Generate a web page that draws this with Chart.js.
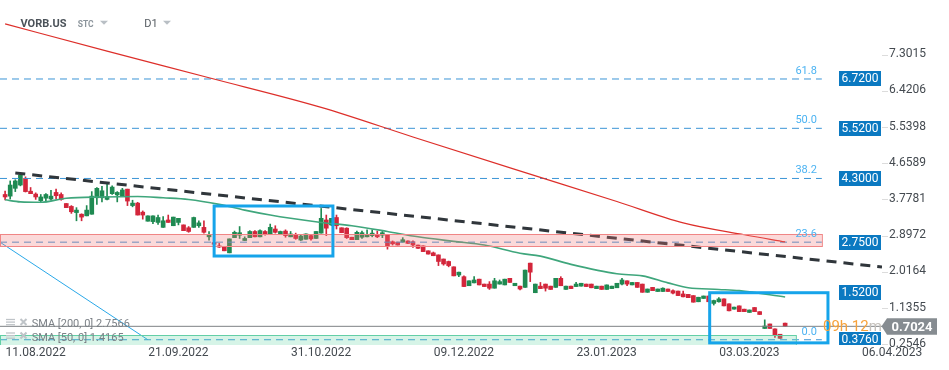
<!DOCTYPE html>
<html><head><meta charset="utf-8">
<script src="https://cdn.jsdelivr.net/npm/chart.js@4.4.0/dist/chart.umd.min.js"></script>
<style>html,body{margin:0;padding:0;background:#fff}#wrap{width:949px;height:370px;position:relative}</style>
</head><body><div id="wrap"><canvas id="c" width="949" height="370"></canvas></div>
<script>
const opens =[3.91,3.87,4.06,4.14,4.30,3.99,3.92,3.76,3.82,3.80,3.96,3.91,3.69,3.62,3.47,3.43,3.39,3.43,3.83,3.83,3.79,3.93,3.90,3.88,4.04,3.64,3.70,3.48,3.26,3.25,3.23,3.11,3.29,3.15,3.23,3.17,3.10,3.11,3.15,3.11,2.88,2.74,2.66,2.64,2.49,2.86,2.92,2.79,2.86,3.01,2.88,3.01,2.95,3.07,2.94,3.02,2.88,2.94,2.80,2.82,2.91,2.84,2.97,3.29,3.17,3.35,3.10,3.09,2.87,2.81,2.87,2.88,2.91,2.94,2.92,2.92,2.76,2.75,2.75,2.78,2.76,2.68,2.66,2.54,2.49,2.44,2.34,2.28,2.15,1.95,1.91,1.69,1.76,1.85,1.73,1.73,1.63,1.73,1.71,1.87,1.69,1.68,1.65,2.24,1.52,1.68,1.73,1.68,1.65,1.87,1.60,1.68,1.67,1.68,1.73,1.73,1.62,1.68,1.60,1.62,1.64,1.73,1.81,1.71,1.77,1.73,1.53,1.65,1.55,1.55,1.61,1.57,1.56,1.49,1.48,1.45,1.30,1.38,1.44,1.26,1.30,1.37,1.25,1.12,1.20,1.12,1.04,1.16,1.06,0.65,0.76,0.64,0.51,0.78];
const highs =[3.99,4.24,4.27,4.42,4.34,4.08,3.95,3.91,3.93,4.01,4.04,3.95,3.69,3.64,3.59,3.44,3.64,3.98,4.08,4.11,4.16,4.12,3.98,4.06,4.04,3.77,3.72,3.51,3.39,3.39,3.41,3.37,3.41,3.36,3.33,3.17,3.13,3.36,3.27,3.27,3.01,2.84,2.72,2.64,2.83,3.02,3.13,2.88,3.03,3.03,3.05,3.03,3.19,3.15,3.02,3.05,3.01,2.97,2.92,2.95,2.92,3.01,3.57,3.41,3.33,3.41,3.10,3.10,2.87,3.02,3.02,3.05,3.05,3.02,3.01,2.92,2.78,2.75,2.86,2.78,2.78,2.68,2.66,2.54,2.51,2.44,2.34,2.29,2.15,2.02,1.93,1.81,1.91,1.85,1.73,1.79,1.87,1.83,1.85,1.87,1.75,1.68,2.07,2.24,1.73,1.77,1.73,1.68,1.87,1.91,1.68,1.68,1.77,1.75,1.73,1.73,1.68,1.68,1.71,1.68,1.75,1.87,1.81,1.77,1.77,1.73,1.61,1.65,1.61,1.64,1.61,1.59,1.56,1.56,1.48,1.45,1.41,1.44,1.44,1.34,1.40,1.37,1.25,1.17,1.20,1.12,1.10,1.16,1.06,0.86,0.76,0.64,0.51,0.78];
const lows  =[3.78,3.80,3.98,4.12,3.97,3.93,3.79,3.71,3.73,3.77,3.80,3.77,3.59,3.45,3.27,3.27,3.39,3.43,3.67,3.73,3.78,3.91,3.73,3.88,3.64,3.61,3.41,3.31,3.26,3.20,3.18,3.11,3.23,3.15,3.17,3.03,2.99,3.11,3.11,2.97,2.80,2.68,2.62,2.54,2.49,2.86,2.84,2.79,2.86,2.88,2.88,2.92,2.95,2.97,2.94,2.87,2.88,2.82,2.79,2.82,2.80,2.84,2.97,2.91,3.15,3.07,2.98,2.84,2.81,2.81,2.84,2.88,2.88,2.86,2.86,2.58,2.68,2.68,2.75,2.72,2.62,2.60,2.52,2.46,2.42,2.18,2.19,2.15,1.93,1.91,1.67,1.69,1.76,1.71,1.67,1.60,1.63,1.73,1.71,1.77,1.69,1.59,1.65,1.79,1.52,1.62,1.56,1.60,1.65,1.69,1.60,1.62,1.67,1.68,1.67,1.64,1.62,1.60,1.60,1.62,1.64,1.71,1.69,1.71,1.65,1.53,1.53,1.57,1.55,1.55,1.55,1.49,1.45,1.42,1.40,1.29,1.30,1.38,1.30,1.22,1.29,1.20,1.08,1.12,1.06,1.06,1.04,1.06,0.99,0.65,0.65,0.43,0.41,0.70];
const closes=[3.85,4.14,4.24,4.38,3.98,3.93,3.85,3.85,3.91,3.87,3.88,3.79,3.59,3.49,3.53,3.36,3.53,3.87,4.06,4.00,3.86,4.09,3.96,4.02,3.75,3.70,3.41,3.41,3.39,3.39,3.35,3.27,3.23,3.36,3.33,3.03,3.01,3.35,3.22,2.99,2.92,2.70,2.63,2.54,2.83,2.99,2.98,2.84,3.01,2.88,3.03,2.95,3.11,2.99,3.01,2.91,2.95,2.84,2.90,2.95,2.83,3.01,3.33,3.09,3.33,3.15,2.98,2.86,2.81,2.99,2.98,2.94,2.97,2.88,2.98,2.66,2.71,2.68,2.81,2.72,2.68,2.60,2.52,2.46,2.42,2.28,2.22,2.18,1.93,2.02,1.67,1.81,1.83,1.71,1.67,1.63,1.81,1.79,1.85,1.77,1.75,1.61,2.07,2.02,1.73,1.62,1.63,1.60,1.87,1.69,1.68,1.62,1.73,1.75,1.67,1.64,1.68,1.60,1.71,1.68,1.75,1.83,1.73,1.77,1.65,1.53,1.61,1.57,1.61,1.63,1.55,1.51,1.45,1.42,1.40,1.29,1.41,1.44,1.30,1.33,1.37,1.20,1.08,1.17,1.06,1.06,1.10,1.06,0.99,0.71,0.65,0.49,0.41,0.7024];

const dateLabels  =['11.08.2022','21.09.2022','31.10.2022','09.12.2022','23.01.2023','03.03.2023','06.04.2023'];
const dateTickIdx =[6,34,62,90,118,146,174];
const yTicks      =[7.3015,6.4206,5.5398,4.6589,3.7781,2.8972,2.0164,1.1355,0.2546];

const sma200Idx=[0,20,40,62,80,100,120,133,145,153];
const sma200Val=[8.06,7.40,6.75,6.03,5.31,4.52,3.74,3.22,2.93,2.7566];
const sma50Idx=[0,3,7,12,19,26,31,36,42,47,52,56,62,68,75,81,88,94,101,105,111,120,125,130,134,140,144,153];
const sma50Val=[3.78,3.73,3.72,3.82,3.85,3.86,3.83,3.79,3.67,3.53,3.41,3.33,3.23,3.15,3.01,2.88,2.77,2.68,2.48,2.41,2.21,1.98,1.93,1.76,1.64,1.60,1.57,1.4165];

const fibLevels=[6.72,5.52,4.30,2.75,0.376];
const fibNames =['61.8','50.0','38.2','23.6','0.0'];
const fibEndIdx=160.2;
const priceBoxes=[6.72,5.52,4.30,2.75,1.52,0.376];
const lastPrice=0.7024;
const trendIdx=[2,172],  trendVal=[4.433,2.146];
const diagIdx=[-1,28],   diagVal=[2.75,0.376];
const redZone  ={x0:-1,x1:160.2,y0:2.657,y1:2.949};
const greenZone={x0:-1,x1:155.1,y0:0.20,y1:0.491};
const boxes=[{x0:41,x1:64.3,y0:2.413,y1:3.63},{x0:138.2,x1:161.4,y0:0.30,y1:1.52}];
const sma200Label='SMA [200, 0] 2.7566';
const sma50Label='SMA [50, 0] 1.4165';

Chart.defaults.font.family='Roboto, "Noto Sans", sans-serif';
const UP='#1f8a52', DN='#d3263b';
const candleColors=closes.map((c,i)=>c>=opens[i]?UP:DN);
const xy=(xs,ys)=>xs.map((x,i)=>({x:x,y:ys[i]}));
const lineDs=(data,color,width,order,dash,extra)=>Object.assign({type:'line',data:data,borderColor:color,borderWidth:width,pointRadius:0,fill:false,tension:0,order:order,borderDash:dash||[]},extra||{});

const datasets=[
  {type:'bar',data:lows.map((l,i)=>({x:i,y:[l,highs[i]]})),backgroundColor:candleColors,barThickness:1,grouped:false,borderWidth:0,order:11},
  {type:'bar',data:opens.map((o,i)=>({x:i,y:[o,closes[i]]})),backgroundColor:candleColors,barThickness:4,grouped:false,borderWidth:0,order:10}
];
fibLevels.forEach(v=>datasets.push(lineDs(xy([-1,fibEndIdx],[v,v]),'#3b95d6',1,6,[7,5])));
datasets.push(lineDs(xy([-1,172],[lastPrice,lastPrice]),'#7d8185',1,5));
datasets.push(lineDs(xy(diagIdx,diagVal),'#2aa8e8',1,4));
datasets.push(lineDs(xy(sma200Idx,sma200Val),'#dd2f2a',1.2,3,null,{cubicInterpolationMode:'monotone'}));
datasets.push(lineDs(xy(sma50Idx,sma50Val),'#3fa67c',1.6,3,null,{cubicInterpolationMode:'monotone'}));
datasets.push(lineDs(xy(trendIdx,trendVal),'#30363b',3,2,[10,7]));

const overlay={
  id:'overlay',
  afterDatasetsDraw(chart){
    const ctx=chart.ctx, xs=chart.scales.x, ys=chart.scales.y, a=chart.chartArea;
    ctx.save();
    ctx.beginPath();ctx.rect(a.left,a.top,a.right-a.left,a.bottom-a.top);ctx.clip();
    const zone=(z,fill,stroke)=>{
      const x0=xs.getPixelForValue(z.x0),x1=xs.getPixelForValue(z.x1),y0=ys.getPixelForValue(z.y1),y1=ys.getPixelForValue(z.y0);
      ctx.fillStyle=fill;ctx.fillRect(x0,y0,x1-x0,y1-y0);
      ctx.strokeStyle=stroke;ctx.lineWidth=1;ctx.strokeRect(x0+0.5,Math.round(y0)+0.5,x1-x0,Math.round(y1-y0));
    };
    zone(redZone,'rgba(242,120,120,0.28)','#f08585');
    zone(greenZone,'rgba(90,210,160,0.25)','#63cfa6');
    ctx.strokeStyle='#16a4ea';ctx.lineWidth=3;
    boxes.forEach(b=>{
      const x0=xs.getPixelForValue(b.x0),x1=xs.getPixelForValue(b.x1),y0=ys.getPixelForValue(b.y1),y1=ys.getPixelForValue(b.y0);
      ctx.strokeRect(x0,y0,x1-x0,y1-y0);
    });
    ctx.font='11px Roboto';ctx.fillStyle='#4cb3f2';ctx.textAlign='right';ctx.textBaseline='alphabetic';
    const fx=xs.getPixelForValue(fibEndIdx)-5;
    fibLevels.forEach((v,i)=>{ctx.fillText(fibNames[i],fx,ys.getPixelForValue(v)-5);});
    ctx.font='12px Roboto';ctx.textAlign='center';ctx.textBaseline='middle';
    priceBoxes.forEach(v=>{
      const y=ys.getPixelForValue(v);
      ctx.fillStyle='#0b79c1';ctx.fillRect(a.right-43,Math.round(y-7.5),42,15);
      ctx.fillStyle='#ffffff';ctx.fillText(v.toFixed(4),a.right-22,y+0.5);
    });
    ctx.restore();
  },
  afterDraw(chart){
    const ctx=chart.ctx, ys=chart.scales.y;
    ctx.save();
    ctx.textBaseline='alphabetic';ctx.textAlign='left';
    ctx.font='bold 11px Roboto';ctx.fillStyle='#4b5259';ctx.fillText('VORB.US',20.5,27.3);
    ctx.font='bold 8.5px Roboto';ctx.fillStyle='#8c959c';ctx.fillText('STC',77.7,26.7);
    ctx.font='11px Roboto';ctx.fillStyle='#555b61';ctx.fillText('D1',144.3,27.3);
    ctx.fillStyle='#b9bfc5';
    [[100,108],[163,171]].forEach(t=>{ctx.beginPath();ctx.moveTo(t[0],20.8);ctx.lineTo(t[1],20.8);ctx.lineTo((t[0]+t[1])/2,24.8);ctx.closePath();ctx.fill();});
    const icons=(y)=>{
      ctx.strokeStyle='#bfc4c8';ctx.lineWidth=1.3;
      for(let k=0;k<3;k++){ctx.beginPath();ctx.moveTo(6,y+k*2.6);ctx.lineTo(15,y+k*2.6);ctx.stroke();}
      ctx.lineWidth=2;ctx.beginPath();ctx.moveTo(20.5,y-0.5);ctx.lineTo(26.5,y+5.5);ctx.moveTo(26.5,y-0.5);ctx.lineTo(20.5,y+5.5);ctx.stroke();
    };
    icons(319.5);icons(333);
    ctx.font='11px Roboto';ctx.fillStyle='#7b8086';
    ctx.fillText(sma200Label,31.7,327.3);
    ctx.fillText(sma50Label,31.7,340.7);
    const yp=ys.getPixelForValue(lastPrice);
    ctx.font='15px Roboto';ctx.textBaseline='middle';
    ctx.fillStyle='#f6a23c';ctx.fillText('09h 12',823,yp+1);
    const w=ctx.measureText('09h 12').width;
    ctx.fillStyle='#c4c0bb';ctx.fillText('m',823+w,yp+1);
    ctx.fillStyle='#868c91';
    ctx.beginPath();ctx.moveTo(881.5,yp);ctx.lineTo(887,yp-8);ctx.lineTo(937,yp-8);ctx.lineTo(937,yp+8.5);ctx.lineTo(887,yp+8.5);ctx.closePath();ctx.fill();
    ctx.font='bold 13px Roboto';ctx.fillStyle='#ffffff';ctx.textAlign='center';
    ctx.fillText(lastPrice.toFixed(4),912,yp+1);
    ctx.restore();
  }
};

new Chart(document.getElementById('c'),{
  type:'bar',
  data:{datasets:datasets},
  options:{
    responsive:false,animation:false,devicePixelRatio:1,
    layout:{padding:0},
    plugins:{legend:{display:false},tooltip:{enabled:false},title:{display:false}},
    scales:{
      x:{type:'linear',min:-1,max:172,offset:false,
        afterFit(s){s.height=25;s.paddingLeft=0;s.paddingRight=0;},
        afterBuildTicks(s){s.ticks=dateTickIdx.map(v=>({value:v}));},
        ticks:{autoSkip:false,maxRotation:0,padding:1,color:'#444a50',font:{size:12},callback:(v,i)=>dateLabels[i]},
        grid:{display:false,drawTicks:false,offset:false},border:{display:false}},
      y:{type:'linear',position:'right',min:0.248,max:8.642,beginAtZero:false,
        afterFit(s){s.width=67;s.paddingTop=0;s.paddingBottom=0;},
        afterBuildTicks(s){s.ticks=yTicks.map(v=>({value:v}));},
        ticks:{autoSkip:false,padding:1,labelOffset:-1,color:'#444a50',font:{size:12},callback:v=>Number(v).toFixed(4)},
        grid:{drawOnChartArea:false,drawTicks:true,tickLength:6,color:'#dcdcdc'},border:{display:false}}
    }
  },
  plugins:[overlay]
});
</script></body></html>
